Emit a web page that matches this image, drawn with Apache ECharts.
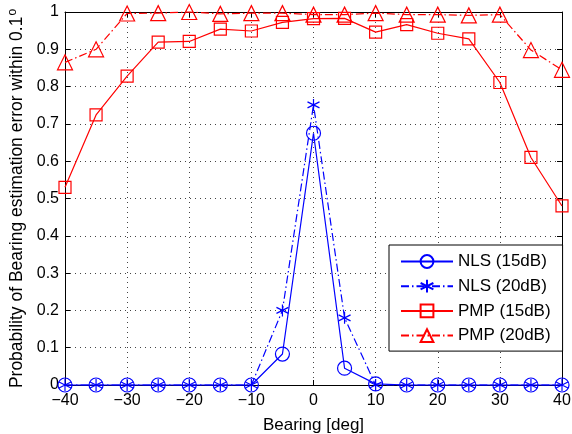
<!DOCTYPE html>
<html><head><meta charset="utf-8">
<script src="https://cdn.jsdelivr.net/npm/echarts@6/dist/echarts.min.js"></script>
<style>html,body{margin:0;padding:0;background:#fff}#c{width:572px;height:434px}</style>
</head><body><div id="c"></div>
<script>
const bearing = [-40,-35,-30,-25,-20,-15,-10,-5,0,5,10,15,20,25,30,35,40];
const nls15 = [0,0,0,0,0,0,0,0.083,0.675,0.045,0.003,0,0,0,0,0,0];
const nls20 = [0,0,0,0,0,0,0,0.200,0.751,0.180,0,0,0,0,0,0,0];
const pmp15 = [0.530,0.724,0.828,0.919,0.921,0.954,0.949,0.972,0.982,0.983,0.946,0.966,0.943,0.928,0.811,0.610,0.480];
const pmp20 = [0.865,0.900,0.996,0.997,1.000,0.995,0.997,0.997,0.993,0.993,0.997,0.993,0.993,0.991,0.993,0.898,0.845];
const xTicks = [-40,-30,-20,-10,0,10,20,30,40];

const F = 'Liberation Sans, Arial, sans-serif';
const pair = arr => bearing.map((b,i)=>[b,arr[i]]);
const star = 'path://M0,-10L0,10M-8.66,-5L8.66,5M-8.66,5L8.66,-5';
const dashDot = [8,3,1.5,3];
function ser(name, data, color, symbol, size, dash){
  return {name, type:'line', data:pair(data), symbol, symbolSize:size, clip:false,
    showSymbol:true,
    lineStyle:{color, width:1.2, type:dash?dashDot:'solid'},
    itemStyle:{color:'transparent', borderColor:color, borderWidth:1.2},
    emphasis:{disabled:true}, animation:false};
}
const chart = echarts.init(document.getElementById('c'));
const axisCommon = {min:-40, max:40, interval:10};
chart.setOption({
  animation:false,
  textStyle:{fontFamily:F},
  grid:{left:65, right:10, top:12, bottom:49, containLabel:false, outerBoundsMode:'none'},
  xAxis:[{type:'value', ...axisCommon, position:'bottom',
      axisLine:{onZero:false, lineStyle:{color:'#000', width:1}},
      axisTick:{inside:true, length:5, lineStyle:{color:'#000'}},
      axisLabel:{color:'#000', fontSize:16, fontFamily:F, margin:8,
        formatter:v=>xTicks.includes(v)?(v<0?'\u2212'+Math.abs(v):String(v)):''},
      splitLine:{show:true, lineStyle:{color:'#444', type:[1,4], width:1}},
      name:'Bearing [deg]', nameLocation:'middle', nameGap:32,
      nameTextStyle:{color:'#000', fontSize:17, fontFamily:F}},
    {type:'value', ...axisCommon, position:'top',
      axisLine:{onZero:false, lineStyle:{color:'#000', width:1}},
      axisTick:{inside:true, length:5, lineStyle:{color:'#000'}},
      axisLabel:{show:false}, splitLine:{show:false}}],
  yAxis:[{type:'value', min:0, max:1, interval:0.1, position:'left',
      axisLine:{onZero:false, lineStyle:{color:'#000', width:1}},
      axisTick:{inside:true, length:5, lineStyle:{color:'#000'}},
      axisLabel:{color:'#000', fontSize:16, fontFamily:F, margin:6,
        formatter:v=>String(Math.round(v*10)/10)},
      splitLine:{show:true, lineStyle:{color:'#444', type:[1,4], width:1}},
      name:'{a|Probability of Bearing estimation error within 0.1}{s|o}',
      nameLocation:'middle', nameGap:37, nameRotate:90,
      nameTextStyle:{color:'#000', fontFamily:F,
        rich:{a:{fontSize:17.5, fontFamily:F, color:'#000'},
              s:{fontSize:12, fontFamily:F, color:'#000', verticalAlign:'top', padding:[0,0,8,1]}}}},
    {type:'value', min:0, max:1, interval:0.1, position:'right',
      axisLine:{onZero:false, lineStyle:{color:'#000', width:1}},
      axisTick:{inside:true, length:5, lineStyle:{color:'#000'}},
      axisLabel:{show:false}, splitLine:{show:false}}],
  legend:{orient:'vertical', left:389, top:245,
    backgroundColor:'#fff', borderColor:'#000', borderWidth:1,
    padding:[8,12,7,11], itemGap:7.7, itemWidth:52, itemHeight:16,
    textStyle:{fontSize:17, fontFamily:F, color:'#000'},
    data:['NLS (15dB)','NLS (20dB)','PMP (15dB)','PMP (20dB)']},
  series:[
    ser('PMP (20dB)', pmp20, '#ff0000', 'triangle', 15, true),
    ser('PMP (15dB)', pmp15, '#ff0000', 'rect', 12, false),
    ser('NLS (20dB)', nls20, '#0000ff', star, 12, true),
    ser('NLS (15dB)', nls15, '#0000ff', 'circle', 14, false)
  ]
});
</script></body></html>
